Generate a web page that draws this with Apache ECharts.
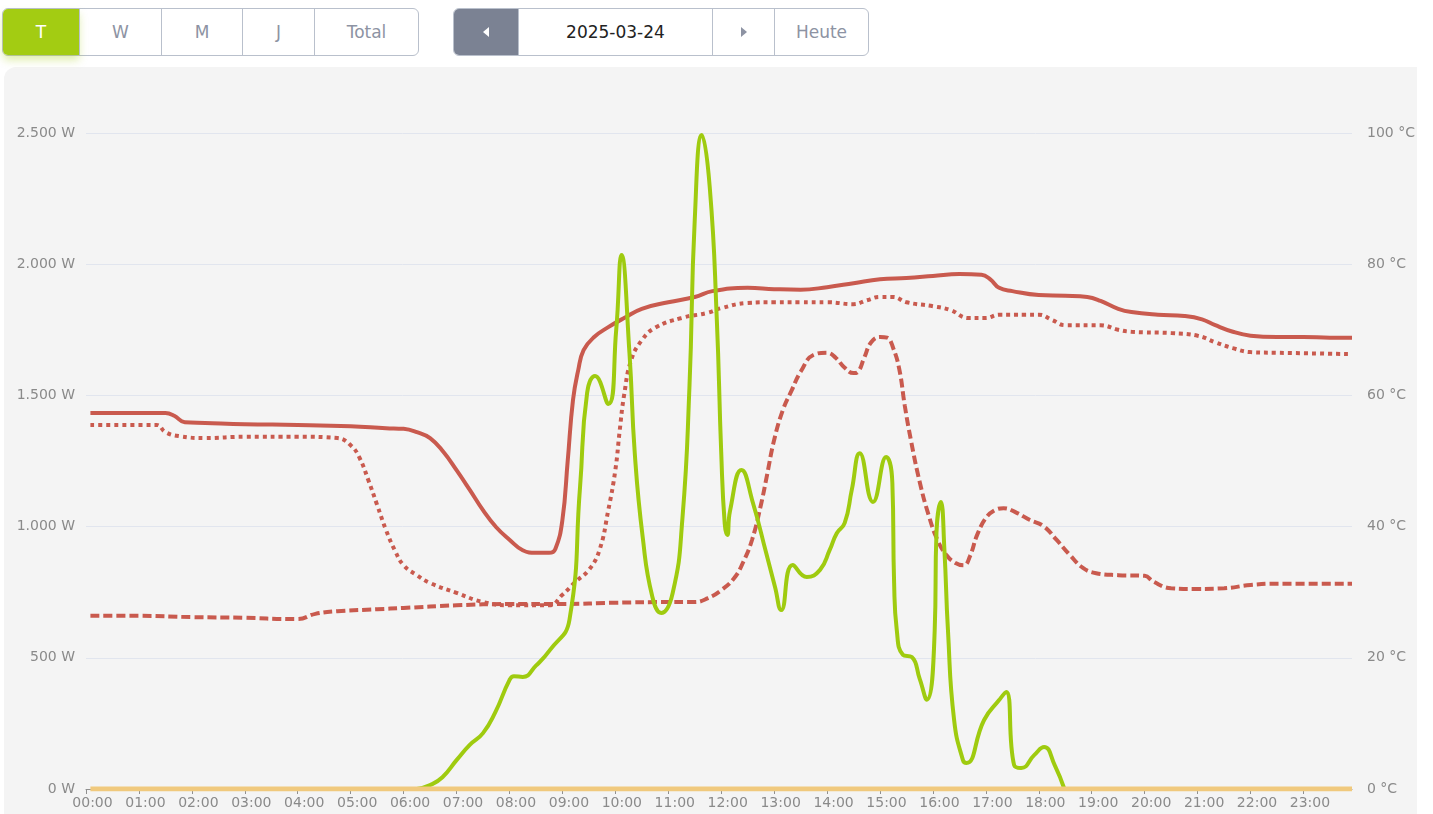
<!DOCTYPE html>
<html>
<head>
<meta charset="utf-8">
<script src="https://cdn.jsdelivr.net/npm/echarts@6/dist/echarts.min.js"></script>
<style>
  html, body { margin: 0; padding: 0; width: 1433px; height: 814px; background: #ffffff; overflow: hidden; font-family: "DejaVu Sans", sans-serif; }
  #panel { position: absolute; left: 4px; top: 67px; width: 1413px; height: 747px; background: #f4f4f4; border-radius: 12px 0 0 0; }
  #chart { position: absolute; left: 0; top: 0; width: 1433px; height: 814px; }
  .group { position: absolute; top: 8px; height: 48px; display: flex; border: 1px solid #b9c0cc; border-radius: 6px; background: #fff; box-sizing: border-box; }
  .btn { height: 100%; display: flex; align-items: center; justify-content: center; color: #8d93a3; font-size: 17px; border-left: 1px solid #b9c0cc; box-sizing: border-box; }
  .btn:first-child { border-left: none; }
  .btn.active { background: #a3cc12; color: #fff; border-radius: 5px 0 0 5px; box-shadow: 0 5px 9px rgba(163, 204, 18, 0.35); }
  .btn.dark { background: #7b8293; border-radius: 5px 0 0 5px; }
  .tri-l { width: 0; height: 0; border-top: 5px solid transparent; border-bottom: 5px solid transparent; border-right: 6px solid #fff; }
  .tri-r { width: 0; height: 0; border-top: 5px solid transparent; border-bottom: 5px solid transparent; border-left: 6px solid #8d93a3; }
  .date { color: #222; }
</style>
</head>
<body>
<div id="panel"></div>
<div class="group" style="left:2px; width:417px;">
  <div class="btn active" style="width:76px;">T</div>
  <div class="btn" style="width:82px;">W</div>
  <div class="btn" style="width:81px;">M</div>
  <div class="btn" style="width:72px;">J</div>
  <div class="btn" style="width:104px;">Total</div>
</div>
<div class="group" style="left:453px; width:416px;">
  <div class="btn dark" style="width:64px;"><div class="tri-l"></div></div>
  <div class="btn date" style="width:194px;">2025-03-24</div>
  <div class="btn" style="width:62px;"><div class="tri-r"></div></div>
  <div class="btn" style="width:94px;">Heute</div>
</div>
<div id="chart"></div>
<script>
// ---------- data ----------
const hourLabels = ['00:00','01:00','02:00','03:00','04:00','05:00','06:00','07:00','08:00','09:00','10:00','11:00',
                    '12:00','13:00','14:00','15:00','16:00','17:00','18:00','19:00','20:00','21:00','22:00','23:00'];
const powerTicks = [0, 500, 1000, 1500, 2000, 2500];
const tempTicks = [0, 20, 40, 60, 80, 100];

// PV power (W)
const pvTimes = ['06:15','06:30','06:44','07:00','07:15','07:30','07:44','08:00','08:05','08:15','08:30','08:46',
  '09:08','09:20','09:28','09:37','09:52','10:01','10:07','10:16','10:22','10:31','10:42','10:52','11:05','11:16','11:24',
  '11:30','11:38','11:47','11:55','12:00','12:04','12:07','12:10','12:23','12:36','12:51','13:01','13:08','13:21','13:37','13:52',
  '14:03','14:11','14:20','14:28','14:37','14:52','15:07','15:14','15:16','15:19','15:26','15:36','15:45','15:53','16:02',
  '16:04','16:09','16:13','16:17','16:24','16:34','16:38','16:58','17:15','17:23','17:32','17:40','17:55','18:06','18:18',
  '18:29'];
const pvWatts = [0,15,45,110,168,213,293,415,430,427,470,530,
  645,1151,1509,1574,1467,1750,2035,1662,1281,960,732,671,747,1029,1532,
  2168,2492,2294,1791,1284,1010,968,1060,1216,1090,899,770,682,854,808,835,
  911,975,1014,1140,1280,1094,1265,1166,785,606,511,503,420,340,606,
  976,1094,911,606,263,110,99,263,339,370,91,80,130,160,91,
  0];

// second power series (flat at 0 W)
const gridTimes = ['00:05','23:55'];
const gridWatts = [0, 0];

// temperature 1 (solid, °C)
const t1Times = ['00:05','01:30','01:40','01:52','02:15','03:00','04:00','05:00','05:40','06:00','06:15','06:30','06:45',
  '07:00','07:15','07:30','07:45','08:00','08:15','08:30','08:45','08:52','09:00','09:06','09:12','09:18','09:24','09:36',
  '09:52','10:10','10:30','11:00','11:30','11:50','12:30','13:00','13:30','14:00','14:30','15:00','15:30','16:00','16:30',
  '16:55','17:05','17:15','17:30','18:00','18:30','18:55','19:10','19:30','19:45','20:15','20:45','21:05','21:20','21:40',
  '22:00','22:30','23:00','23:30','23:55'];
const t1Values = [57.3,57.3,56.9,55.9,55.8,55.6,55.5,55.3,55.0,54.9,54.4,53.5,51.4,
  48.6,45.6,42.5,39.9,38.0,36.4,36.0,36.0,36.6,41.0,50.0,59.3,63.9,66.9,68.9,
  70.4,71.8,73.2,74.2,75.0,75.9,76.4,76.2,76.1,76.5,77.1,77.7,77.9,78.2,78.5,
  78.4,77.7,76.4,75.9,75.3,75.2,75.0,74.4,73.2,72.7,72.3,72.1,71.6,70.7,69.7,
  69.1,68.9,68.9,68.8,68.8];

// temperature 2 (dotted, °C)
const t2Times = ['00:05','01:20','01:30','01:45','02:15','03:00','04:00','04:45','05:00','05:10','05:20','05:30','05:40',
  '05:50','06:00','06:15','06:30','07:00','07:30','08:00','08:45','09:00','09:15','09:30','09:42','09:52','10:00','10:05',
  '10:10','10:18','10:30','10:45','11:15','11:45','12:00','12:30','13:00','13:30','14:00','14:30','14:45','15:00','15:15',
  '15:30','16:00','16:20','16:40','17:00','17:15','17:45','18:00','18:15','18:30','19:10','19:30','19:45','20:30','21:00',
  '21:20','21:40','22:00','22:30','23:55'];
const t2Values = [55.5,55.5,54.4,53.8,53.5,53.7,53.7,53.5,52.4,50.5,47.1,43.3,39.5,
  36.4,34.1,32.6,31.4,29.9,28.5,28.0,28.0,29.6,31.6,33.4,36.4,42.5,48.6,54.7,
  60.1,65.4,68.4,70.3,71.8,72.6,73.3,74.1,74.2,74.2,74.2,73.9,74.5,75.0,75.0,
  74.2,73.6,73.0,71.8,71.8,72.3,72.3,72.3,71.5,70.7,70.7,70.0,69.7,69.5,69.1,
  68.1,67.2,66.6,66.5,66.3];

// temperature 3 (dashed, °C)
const t3Times = ['00:05','01:00','02:00','03:00','03:50','04:00','04:20','04:45','05:30','06:00','07:00','08:00','09:00',
  '10:00','11:00','11:30','11:45','12:00','12:15','12:25','12:35','12:45','12:52','13:00','13:10','13:20','13:30','13:45',
  '14:00','14:10','14:20','14:30','14:35','14:42','14:50','15:00','15:08','15:15','15:22','15:28','15:35','15:45','15:55',
  '16:05','16:15','16:25','16:35','16:42','16:50','17:00','17:10','17:20','17:35','17:50','18:05','18:20','18:35','18:50',
  '19:05','19:30','20:00','20:10','20:30','21:00','21:30','22:00','22:30','23:55'];
const t3Values = [26.4,26.4,26.2,26.1,25.9,25.9,26.7,27.1,27.4,27.6,28.0,28.2,28.2,
  28.4,28.5,28.5,29.1,30.3,32.2,34.6,38.0,43.3,47.9,53.2,57.8,60.8,63.6,66.2,
  66.5,65.7,64.2,63.4,63.6,65.7,68.1,68.9,68.8,67.2,63.9,58.5,53.2,46.8,41.8,
  38.0,35.7,34.5,34.1,35.5,38.7,41.3,42.5,42.8,42.1,41.0,40.1,38.0,35.7,33.7,
  32.9,32.6,32.5,31.6,30.6,30.5,30.6,31.1,31.3,31.3];

// ---------- helpers ----------
function toMin(s) { const p = s.split(':'); return (+p[0]) * 60 + (+p[1]); }
function pairs(times, vals) { return times.map((t, i) => [toMin(t), vals[i]]); }
function fmtW(v) { return String(v).replace(/\B(?=(\d{3})+(?!\d))/g, '.') + ' W'; }

const RED = '#c95a4e';
const GREEN = '#9fcb0f';
const ORANGE = '#f0c97d';
const LABEL = '#8a8a8a';
const FONT = 'DejaVu Sans';

const chart = echarts.init(document.getElementById('chart'), null, { renderer: 'canvas' });
chart.setOption({
  animation: false,
  backgroundColor: 'transparent',
  grid: { left: 86, right: 81, top: 133, bottom: 25, containLabel: false },
  xAxis: {
    type: 'value', min: 0, max: toMin('23:55'), interval: 60,
    axisLine: { show: true, lineStyle: { color: '#8f8f8f', width: 1 } },
    axisTick: { show: true, length: 5, lineStyle: { color: '#8f8f8f' } },
    splitLine: { show: false },
    axisLabel: {
      color: LABEL, fontFamily: FONT, fontSize: 14, margin: 7, padding: [0, 0, 0, 13],
      showMaxLabel: false,
      formatter: v => (v % 60 === 0 ? hourLabels[v / 60] : '')
    }
  },
  yAxis: [
    {
      type: 'value', min: powerTicks[0], max: powerTicks[powerTicks.length - 1], interval: 500,
      axisLine: { show: false }, axisTick: { show: false },
      splitLine: { show: true, lineStyle: { color: '#e1e5ee', width: 1 } },
      axisLabel: { color: LABEL, fontFamily: FONT, fontSize: 14, margin: 11, formatter: v => fmtW(v) }
    },
    {
      type: 'value', min: tempTicks[0], max: tempTicks[tempTicks.length - 1], interval: 20,
      axisLine: { show: false }, axisTick: { show: false },
      splitLine: { show: false },
      axisLabel: { color: LABEL, fontFamily: FONT, fontSize: 14, margin: 15, formatter: v => v + ' °C' }
    }
  ],
  series: [
    { name: 'Temp 3', type: 'line', yAxisIndex: 1, data: pairs(t3Times, t3Values), showSymbol: false, smooth: 0.45,
      lineStyle: { color: RED, width: 4, type: [9, 4] }, z: 3 },
    { name: 'Temp 2', type: 'line', yAxisIndex: 1, data: pairs(t2Times, t2Values), showSymbol: false, smooth: 0.45,
      lineStyle: { color: RED, width: 4, type: [4, 4] }, z: 3 },
    { name: 'Temp 1', type: 'line', yAxisIndex: 1, data: pairs(t1Times, t1Values), showSymbol: false, smooth: 0.45,
      lineStyle: { color: RED, width: 4 }, z: 3 },
    { name: 'PV', type: 'line', yAxisIndex: 0, data: pairs(pvTimes, pvWatts), showSymbol: false, smooth: 0.5,
      lineStyle: { color: GREEN, width: 4 }, z: 4 },
    { name: 'Netz', type: 'line', yAxisIndex: 0, data: pairs(gridTimes, gridWatts), showSymbol: false,
      lineStyle: { color: ORANGE, width: 5 }, z: 5 }
  ]
});
</script>
</body>
</html>
